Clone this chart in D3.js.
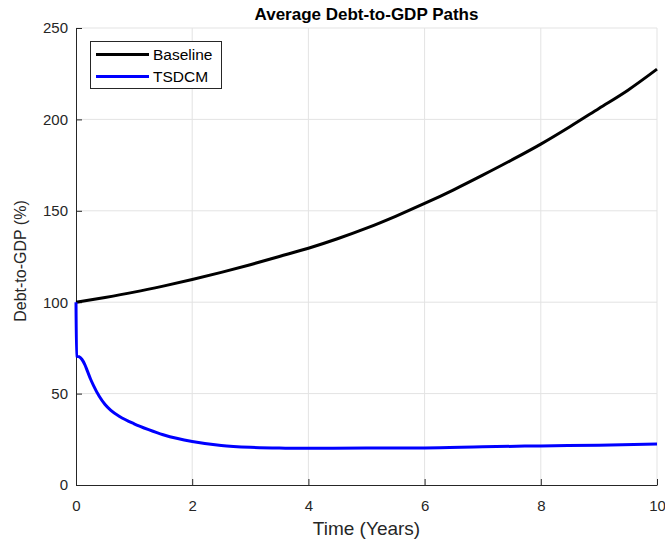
<!DOCTYPE html>
<html><head><meta charset="utf-8">
<script src="https://cdn.jsdelivr.net/npm/d3@7"></script>
<style>body{margin:0;background:#fff}svg{display:block;font-family:"Liberation Sans",Arial,sans-serif}</style>
</head><body>
<script>
const title = "Average Debt-to-GDP Paths";
const xLabel = "Time (Years)";
const yLabel = "Debt-to-GDP (%)";
const xTicks = [0, 2, 4, 6, 8, 10];
const yTicks = [0, 50, 100, 150, 200, 250];
const seriesNames = ["Baseline", "TSDCM"];
const seriesColors = ["#000000", "#0000ff"];

const baselineT = [0,0.5,1,1.5,2,2.5,3,3.5,4,4.5,5,5.5,6,6.5,7,7.5,8,8.5,9,9.5,10];
const baselineV = [100,102.6,105.5,108.8,112.4,116.3,120.5,125,129.5,134.7,140.5,147,154,161.5,169.5,177.8,186.5,196,206,216,227.5];

const tsdcmT = [0,0.01,0.05,0.1,0.15,0.2,0.25,0.3,0.4,0.5,0.6,0.75,1,1.25,1.5,1.75,2,2.5,3,3.5,4,5,6,7,8,9,10];
const tsdcmV = [100,70.5,70.2,68.8,66,62,58,54.5,48.5,44,40.8,37.5,33.5,30.3,27.5,25.4,23.8,21.6,20.6,20.2,20.1,20.2,20.3,20.9,21.4,21.8,22.4];

const W = 665, H = 543;
const m = {left: 76, right: 8, top: 28, bottom: 58};
const svg = d3.select("body").append("svg").attr("width", W).attr("height", H);

const x = d3.scaleLinear().domain([0, 10]).range([m.left, W - m.right]);
const y = d3.scaleLinear().domain([0, 250]).range([H - m.bottom, m.top]);
const axisCol = "#262626";
const font = '"Liberation Sans",Arial,sans-serif';

// grid
svg.append("g").selectAll("line").data(xTicks.slice(1)).join("line")
  .attr("x1", d => x(d)).attr("x2", d => x(d)).attr("y1", y(0)).attr("y2", y(250))
  .attr("stroke", "#e3e3e3").attr("stroke-width", 1);
svg.append("g").selectAll("line").data(yTicks.slice(1)).join("line")
  .attr("x1", x(0)).attr("x2", x(10)).attr("y1", d => y(d)).attr("y2", d => y(d))
  .attr("stroke", "#e3e3e3").attr("stroke-width", 1);

// axes
const xAxis = svg.append("g").attr("transform", `translate(0,${y(0)})`)
  .call(d3.axisBottom(x).tickValues(xTicks).tickSizeInner(-6).tickSizeOuter(0).tickPadding(15).tickFormat(d3.format("d")));
const yAxis = svg.append("g").attr("transform", `translate(${x(0)},0)`)
  .call(d3.axisLeft(y).tickValues(yTicks).tickSizeInner(-6).tickSizeOuter(0).tickPadding(8).tickFormat(d3.format("d")));
[xAxis, yAxis].forEach(g => {
  g.select(".domain").attr("stroke", axisCol).attr("stroke-width", 1);
  g.selectAll(".tick line").attr("stroke", axisCol);
  g.selectAll(".tick text").attr("fill", axisCol).style("font-size", "15px").style("font-family", font);
});

// lines
const lineGen = d3.line().curve(d3.curveMonotoneX).x(d => x(d[0])).y(d => y(d[1]));
const series = [
  baselineT.map((t, i) => [t, baselineV[i]]),
  tsdcmT.map((t, i) => [t, tsdcmV[i]])
];
series.forEach((s, i) => {
  svg.append("path").datum(s).attr("d", lineGen)
    .attr("fill", "none").attr("stroke", seriesColors[i]).attr("stroke-width", 3)
    .attr("stroke-linejoin", "round");
});

// title and labels
svg.append("text").attr("x", (x(0) + x(10)) / 2).attr("y", 20).attr("text-anchor", "middle")
  .style("font-size", "17px").style("font-weight", "bold").attr("fill", "#000").text(title);
svg.append("text").attr("x", (x(0) + x(10)) / 2).attr("y", 535).attr("text-anchor", "middle")
  .style("font-size", "19px").attr("fill", axisCol).text(xLabel);
svg.append("text").attr("transform", `translate(26,261) rotate(-90)`).attr("text-anchor", "middle")
  .style("font-size", "16px").attr("fill", axisCol).text(yLabel);

// legend
const lg = svg.append("g");
lg.append("rect").attr("x", 90.5).attr("y", 41.5).attr("width", 131).attr("height", 47)
  .attr("fill", "#fff").attr("stroke", axisCol).attr("stroke-width", 1);
seriesNames.forEach((n, i) => {
  const yy = 54.5 + i * 22;
  lg.append("line").attr("x1", 96).attr("x2", 149).attr("y1", yy).attr("y2", yy)
    .attr("stroke", seriesColors[i]).attr("stroke-width", 3);
  lg.append("text").attr("x", 153).attr("y", yy + 5.5).style("font-size", "15.5px").attr("fill", "#000").text(n);
});
</script>
</body></html>
